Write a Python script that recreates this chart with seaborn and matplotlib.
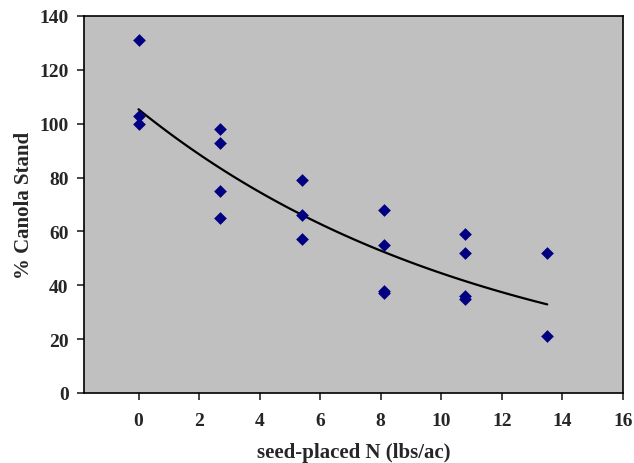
import numpy as np
import pandas as pd
import matplotlib
matplotlib.use("Agg")
import matplotlib.pyplot as plt
import seaborn as sns

# Seed-placed N rate and canola stand
n_rate = [0, 0, 0,
          2.7, 2.7, 2.7, 2.7,
          5.4, 5.4, 5.4,
          8.1, 8.1, 8.1, 8.1,
          10.8, 10.8, 10.8, 10.8,
          13.5, 13.5]
stand = [131, 103, 100,
         98, 93, 75, 65,
         79, 66, 57,
         68, 55, 38, 37,
         59, 52, 36, 35,
         52, 21]
x_ticks = [0, 2, 4, 6, 8, 10, 12, 14, 16]
y_ticks = [0, 20, 40, 60, 80, 100, 120, 140]

df = pd.DataFrame({"N": n_rate, "stand": stand})

# exponential trendline (least squares on log y, like Excel)
b, ln_a = np.polyfit(df["N"], np.log(df["stand"]), 1)
xs = np.linspace(0, 13.5, 100)
trend = pd.DataFrame({"N": xs, "stand": np.exp(ln_a) * np.exp(b * xs)})

sns.set_style("ticks")
plt.rcParams["font.family"] = ["Liberation Serif", "DejaVu Serif"]
plt.rcParams["font.weight"] = "bold"

fig = plt.figure(figsize=(6.34, 4.64), dpi=100)
ax = fig.add_axes([0.1325, 0.151, 0.85, 0.8125])
ax.set_facecolor("#C0C0C0")

sns.lineplot(data=trend, x="N", y="stand", color="black", linewidth=1.6, ax=ax)
sns.scatterplot(data=df, x="N", y="stand", marker="D", color="#000080",
                s=42, edgecolor="#000080", linewidth=0, zorder=3, ax=ax)

ax.set_xlim(-1.8, 16)
ax.set_ylim(0, 140)
ax.set_xticks(x_ticks)
ax.set_yticks(y_ticks)
ax.tick_params(axis="x", direction="out", length=5, width=1.2, pad=9, labelsize=14)
ax.tick_params(axis="y", direction="out", length=5, width=1.2, pad=6, labelsize=14)
for lbl in ax.get_xticklabels() + ax.get_yticklabels():
    lbl.set_fontweight("bold")

for sp in ax.spines.values():
    sp.set_visible(True)
    sp.set_color("black")
    sp.set_linewidth(1.2)

ax.set_xlabel("seed-placed N (lbs/ac)", fontsize=15, fontweight="bold", labelpad=9)
ax.set_ylabel("% Canola Stand", fontsize=15, fontweight="bold", labelpad=4)

fig.savefig("out.png", dpi=100)
